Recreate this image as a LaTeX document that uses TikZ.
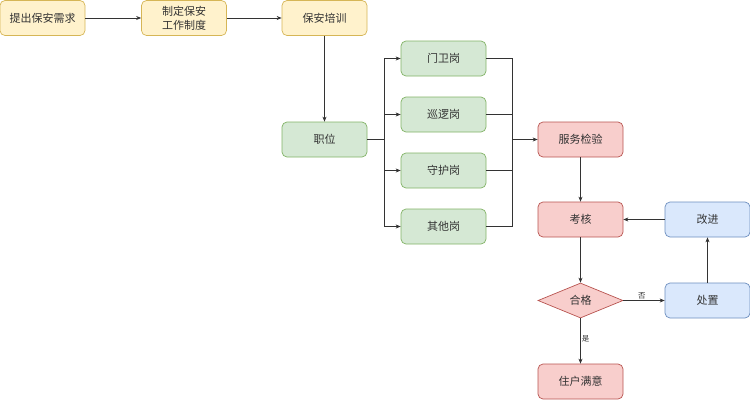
\documentclass[tikz,border=0pt]{standalone}
\usepackage{fontspec}
\setmainfont{Noto Sans CJK SC}
\usetikzlibrary{shapes.geometric,arrows.meta}
\definecolor{yf}{HTML}{FFF2CC}\definecolor{yd}{HTML}{D6B656}
\definecolor{gf}{HTML}{D5E8D4}\definecolor{gd}{HTML}{82B366}
\definecolor{rf}{HTML}{F8CECC}\definecolor{rd}{HTML}{B85450}
\definecolor{bf}{HTML}{DAE8FC}\definecolor{bd}{HTML}{6C8EBF}
\definecolor{ln}{HTML}{333333}
\definecolor{tx}{HTML}{333333}
\tikzset{
 box/.style={rectangle,rounded corners=5pt,minimum width=85pt,minimum height=35pt,inner sep=1pt,line width=0.7pt,align=center,text=tx,font=\fontsize{11}{14}\selectfont},
 ybox/.style={box,fill=yf,draw=yd},
 gbox/.style={box,fill=gf,draw=gd},
 rbox/.style={box,fill=rf,draw=rd},
 bbox/.style={box,fill=bf,draw=bd},
 dia/.style={diamond,aspect=2.43,minimum width=85pt,minimum height=35pt,inner sep=0pt,fill=rf,draw=rd,line width=0.7pt,text=tx,font=\fontsize{11}{14}\selectfont},
 conn/.style={draw=ln,line width=0.7pt,-{Stealth[length=5pt,width=4pt]}},
 lab/.style={font=\fontsize{7.5}{9}\selectfont,text=tx,inner sep=1pt}
}
\begin{document}
\begin{tikzpicture}[x=1pt,y=-1pt]
\useasboundingbox (0,0) rectangle (750,400);
\node[ybox] (b1) at (42.5,18) {提出保安需求};
\node[ybox] (b2) at (184,18) {制定保安\\工作制度};
\node[ybox] (b3) at (324.5,18) {保安培训};
\node[gbox] (job) at (324.5,139.5) {职位};
\node[gbox] (p1) at (443.5,58.5) {门卫岗};
\node[gbox] (p2) at (443.5,114.5) {巡逻岗};
\node[gbox] (p3) at (443.5,170.5) {守护岗};
\node[gbox] (p4) at (443.5,226.5) {其他岗};
\node[rbox] (svc) at (580.5,139.5) {服务检验};
\node[rbox] (kh) at (580.5,219.5) {考核};
\node[dia] (hg) at (580.5,300.5) {合格};
\node[rbox] (zh) at (580.5,381.5) {住户满意};
\node[bbox] (gj) at (707.5,219.5) {改进};
\node[bbox] (cz) at (707.5,300.5) {处置};
\coordinate (sp) at (384,139.5);
\coordinate (mg) at (512,139.5);
\draw[conn] (b1) -- (b2);
\draw[conn] (b2) -- (b3);
\draw[conn] (b3) -- (job);
\foreach \p in {p1,p2,p3,p4}{
 \draw[conn] (job.east) -- (sp) |- (\p.west);
 \draw[draw=ln,line width=0.7pt] (\p.east) -| (mg);
}
\draw[conn] (mg) -- (svc.west);
\draw[conn] (svc) -- (kh);
\draw[conn] (kh) -- (hg);
\draw[conn] (hg) -- node[lab,above,pos=0.45] {否} (cz);
\draw[conn] (hg) -- node[lab,right,pos=0.45] {是} (zh);
\draw[conn] (cz) -- (gj);
\draw[conn] (gj) -- (kh);
\end{tikzpicture}
\end{document}
